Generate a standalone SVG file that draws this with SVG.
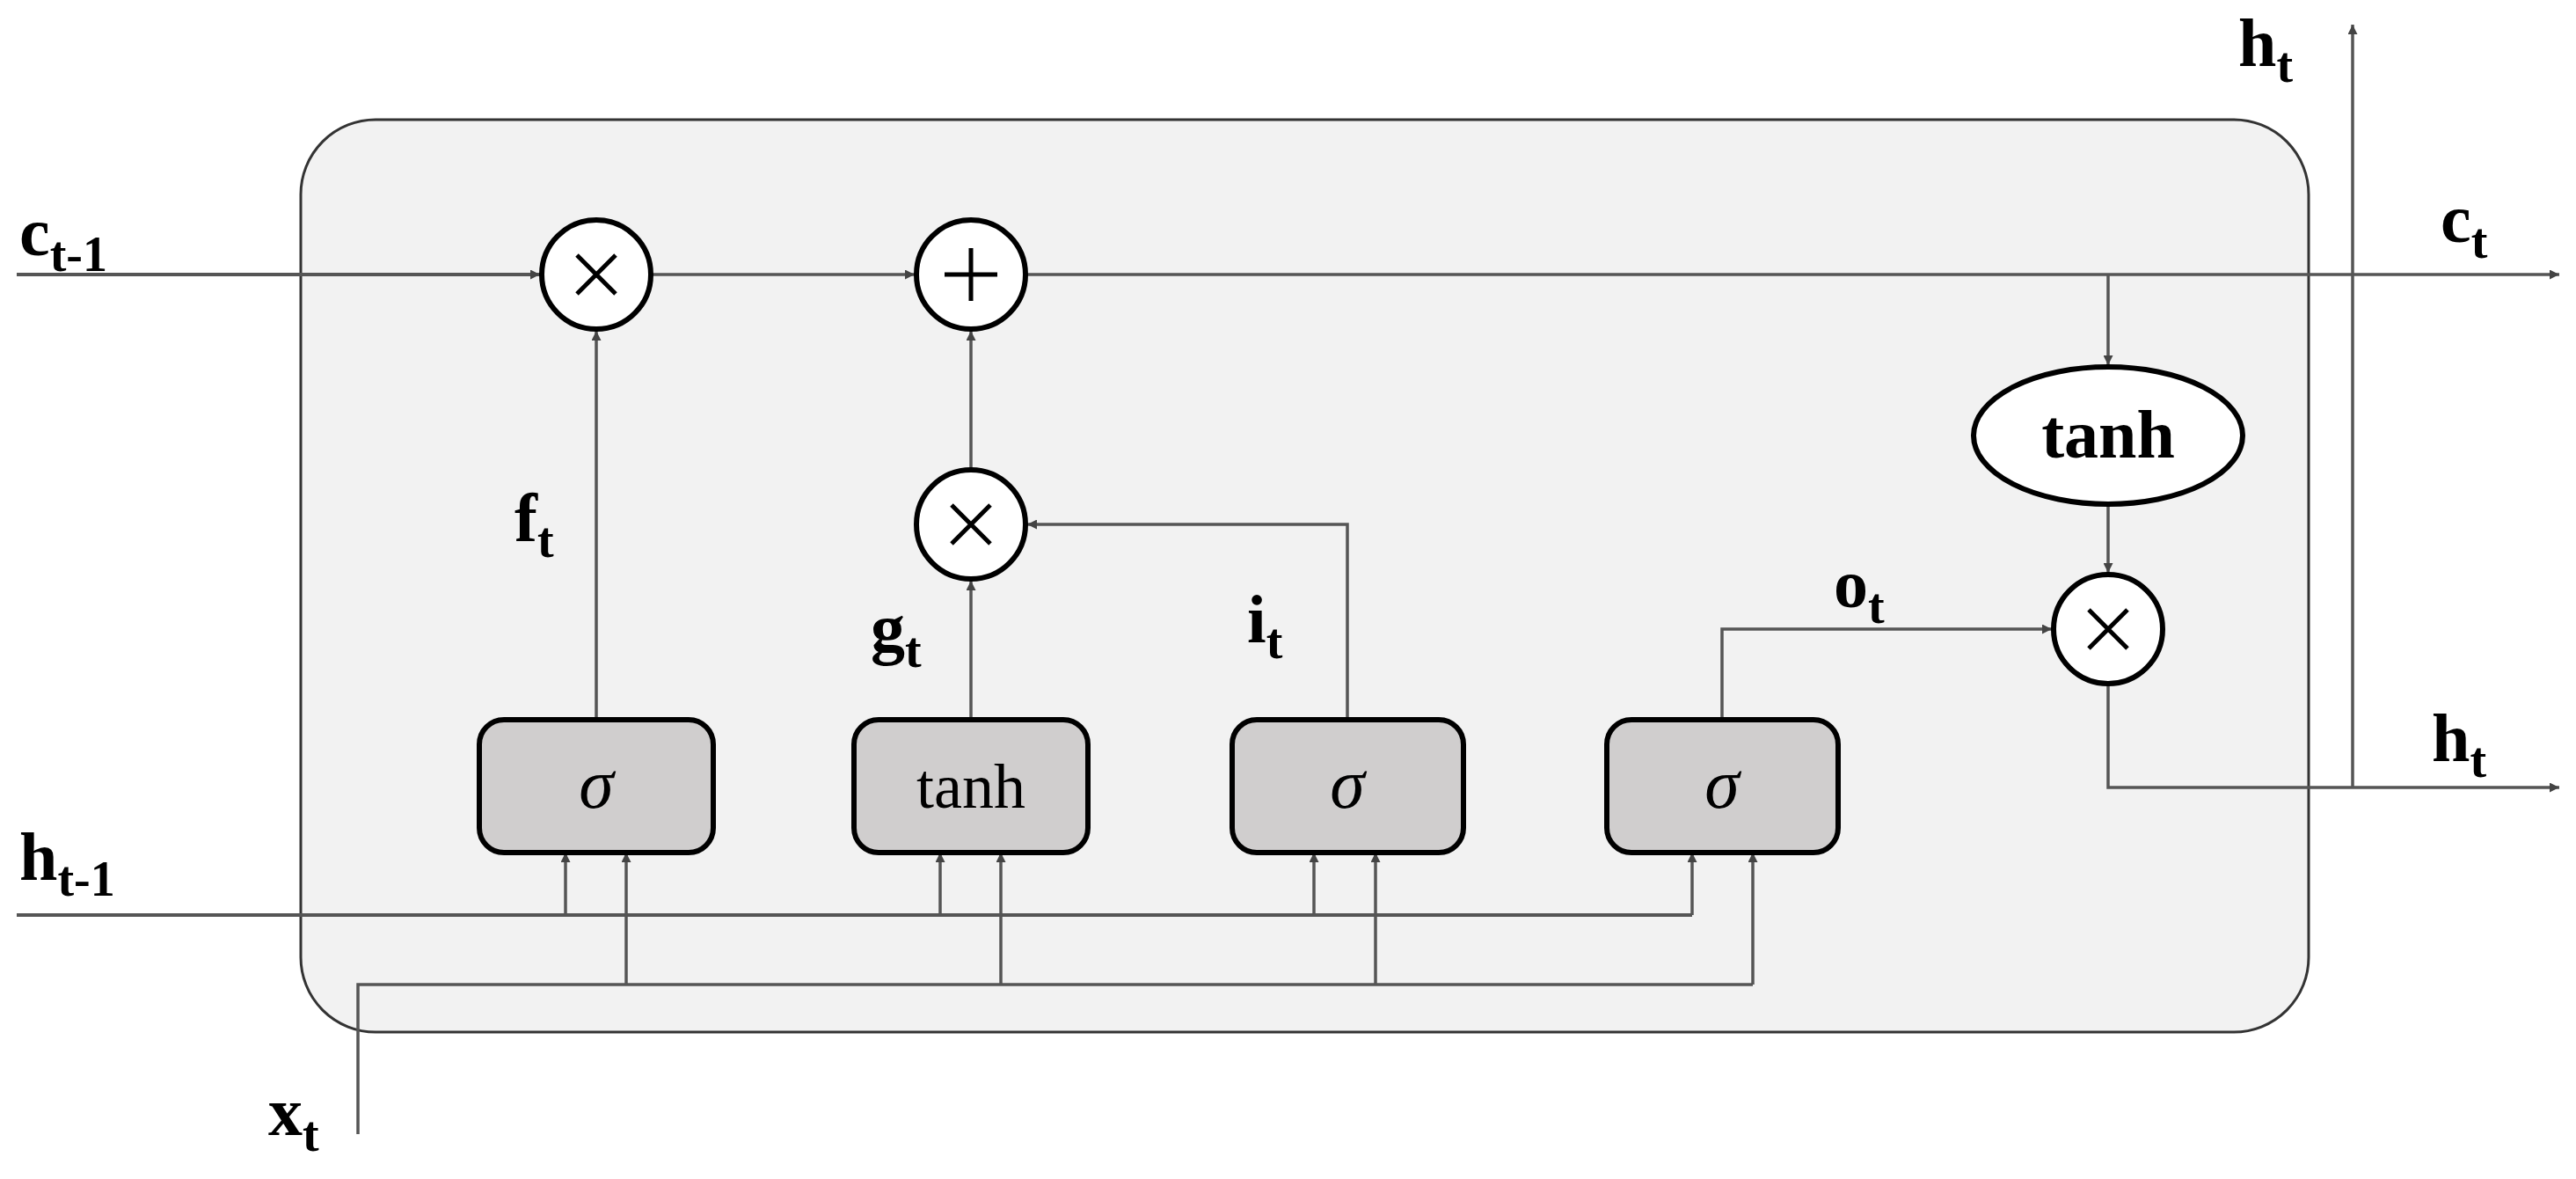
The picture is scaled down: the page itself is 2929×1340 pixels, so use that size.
<svg xmlns="http://www.w3.org/2000/svg" width="2929" height="1340" viewBox="0 0 2929 1340">
<style>
.ln{fill:none;stroke:#555;stroke-width:3.5}
.op{fill:#fff;stroke:#000;stroke-width:6}
.gate{fill:#d0cece;stroke:#000;stroke-width:6}
.sym{stroke:#000;stroke-width:5;fill:none}
.lbl{font-family:"Liberation Serif",serif;font-weight:bold;font-size:78px;fill:#000}
.sub{font-size:56px}
.g{font-family:"Liberation Serif",serif;font-size:80px;fill:#000;text-anchor:middle}
</style>
<defs>
<marker id="a" viewBox="0 0 10 10" refX="10" refY="5" markerWidth="11" markerHeight="11" markerUnits="userSpaceOnUse" orient="auto">
<path d="M0,0L10,5L0,10z" fill="#444"/>
</marker>
</defs>
<rect x="0" y="0" width="2929" height="1340" fill="#fff"/>
<g id="cell"><rect x="342" y="136" width="2283" height="1037" rx="85" fill="#f2f2f2" stroke="#333" stroke-width="3"/></g>
<g id="connectors" class="ln">
<path d="M19,312H614" marker-end="url(#a)" style="stroke-width:4" transform=""/>
<path d="M740,312H1040" marker-end="url(#a)"/>
<path d="M1166,312H2910" marker-end="url(#a)"/>
<path d="M678,818V376" marker-end="url(#a)"/>
<path d="M1104,818V660" marker-end="url(#a)"/>
<path d="M1104,534V376" marker-end="url(#a)"/>
<path d="M1532,818V596H1168" marker-end="url(#a)"/>
<path d="M1958,818V715H2333" marker-end="url(#a)"/>
<path d="M2397,312V415" marker-end="url(#a)"/>
<path d="M2397,573V651" marker-end="url(#a)"/>
<path d="M2397,779V895H2910" marker-end="url(#a)"/>
<path d="M2675,895V28" marker-end="url(#a)"/>
<path d="M19,1040H1924" style="stroke-width:4"/>
<path d="M643,1040V969" marker-end="url(#a)"/>
<path d="M1069,1040V969" marker-end="url(#a)"/>
<path d="M1494,1040V969" marker-end="url(#a)"/>
<path d="M1924,1040V969" marker-end="url(#a)"/>
<path d="M407,1289V1119H1993"/>
<path d="M712,1119V969" marker-end="url(#a)"/>
<path d="M1138,1119V969" marker-end="url(#a)"/>
<path d="M1564,1119V969" marker-end="url(#a)"/>
<path d="M1993,1119V969" marker-end="url(#a)"/>
</g>
<g id="mul_f"><circle class="op" cx="678" cy="312" r="62"/><path class="sym" d="M656,290L700,334M700,290L656,334"/></g>
<g id="add"><circle class="op" cx="1104" cy="312" r="62"/><path class="sym" d="M1074,312H1134M1104,282V342"/></g>
<g id="mul_i"><circle class="op" cx="1104" cy="596" r="62"/><path class="sym" d="M1082,574L1126,618M1126,574L1082,618"/></g>
<g id="mul_o"><circle class="op" cx="2397" cy="715" r="62"/><path class="sym" d="M2375,693L2419,737M2419,693L2375,737"/></g>
<g id="tanh_c"><ellipse class="op" cx="2397" cy="495" rx="153" ry="78"/><text class="lbl" x="2397" y="520" text-anchor="middle">tanh</text></g>
<g id="gate_f"><rect class="gate" x="545" y="818" width="266" height="151" rx="28"/><text class="g" x="678" y="918" font-style="italic">σ</text></g>
<g id="gate_g"><rect class="gate" x="971" y="818" width="266" height="151" rx="28"/><text class="g" x="1104" y="918" style="font-size:72px">tanh</text></g>
<g id="gate_i"><rect class="gate" x="1401" y="818" width="263" height="151" rx="28"/><text class="g" x="1532" y="918" font-style="italic">σ</text></g>
<g id="gate_o"><rect class="gate" x="1827" y="818" width="263" height="151" rx="28"/><text class="g" x="1958" y="918" font-style="italic">σ</text></g>
<g id="labels">
<text class="lbl" x="22" y="290">c<tspan class="sub" dy="18">t-1</tspan></text>
<text class="lbl" x="585" y="615">f<tspan class="sub" dy="18">t</tspan></text>
<text class="lbl" x="990" y="740">g<tspan class="sub" dy="18">t</tspan></text>
<text class="lbl" x="1418" y="730">i<tspan class="sub" dy="18">t</tspan></text>
<text class="lbl" x="2085" y="690">o<tspan class="sub" dy="18">t</tspan></text>
<text class="lbl" x="22" y="1000">h<tspan class="sub" dy="18">t-1</tspan></text>
<text class="lbl" x="305" y="1290">x<tspan class="sub" dy="18">t</tspan></text>
<text class="lbl" x="2545" y="75">h<tspan class="sub" dy="18">t</tspan></text>
<text class="lbl" x="2775" y="275">c<tspan class="sub" dy="18">t</tspan></text>
<text class="lbl" x="2765" y="865">h<tspan class="sub" dy="18">t</tspan></text>
</g>
</svg>
